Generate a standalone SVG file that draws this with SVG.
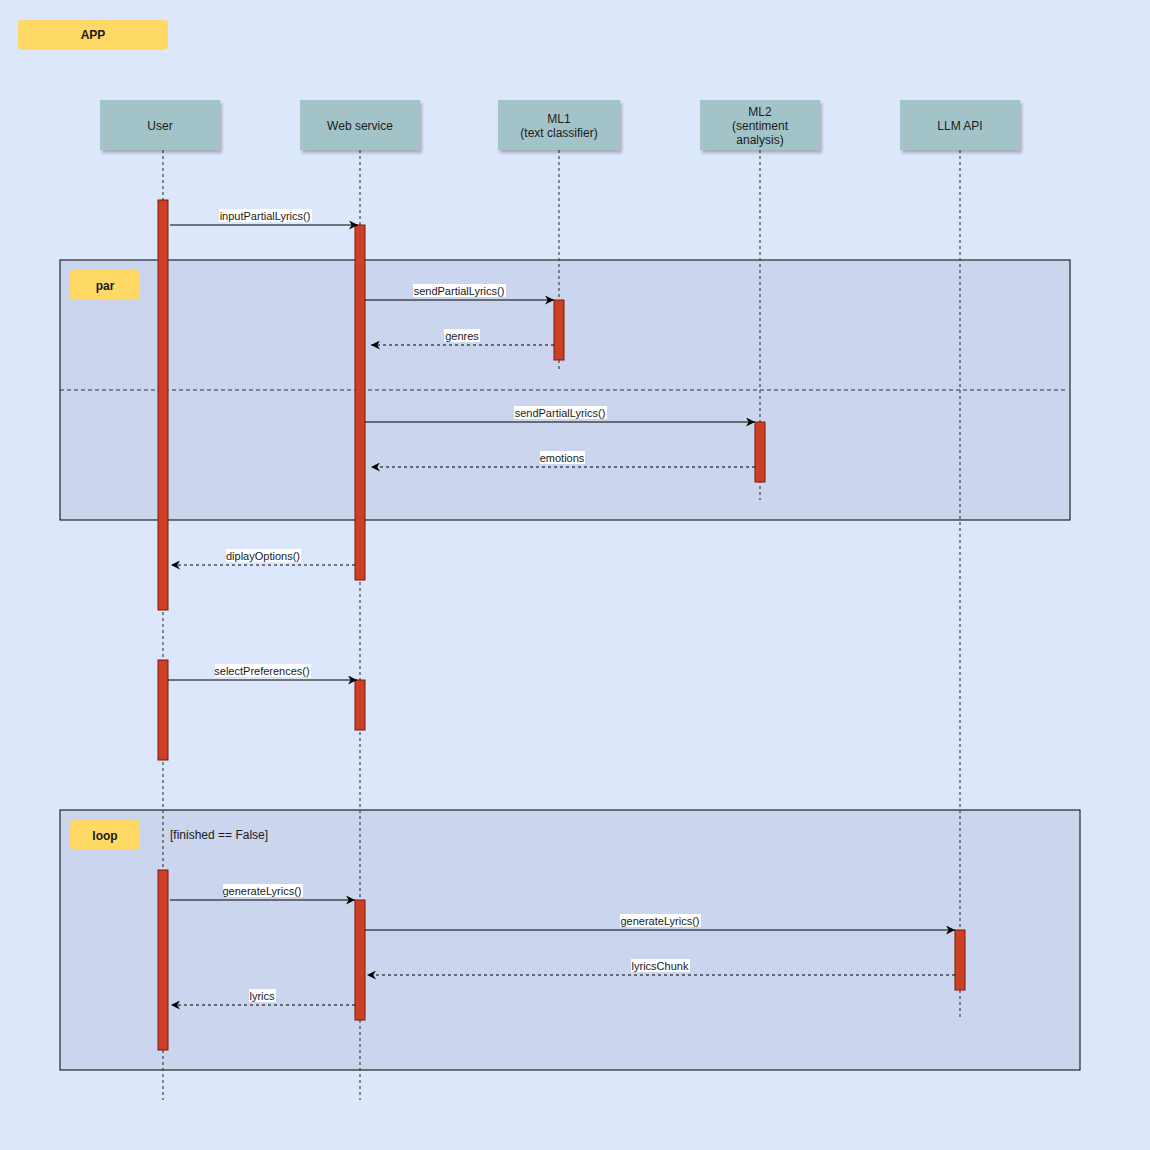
<svg xmlns="http://www.w3.org/2000/svg" width="1150" height="1150" viewBox="0 0 1150 1150">
<defs>
<marker id="arr" viewBox="0 0 10 10" refX="10" refY="5" markerWidth="9" markerHeight="9" markerUnits="userSpaceOnUse" orient="auto">
<path d="M0,0 L10,5 L0,10 L3,5 Z" fill="#000"/>
</marker>
<filter id="sh" x="-10%" y="-10%" width="130%" height="140%">
<feDropShadow dx="2" dy="3" stdDeviation="1.5" flood-color="#000" flood-opacity="0.25"/>
</filter>
</defs>
<style>
text{font-family:"Liberation Sans",Arial,sans-serif;fill:#1a1a1a}
.actor{fill:#a2c4c9}
.atxt{font-size:12px;text-anchor:middle}
.life{stroke:#444;stroke-width:1.2;stroke-dasharray:3 3;fill:none}
.act{fill:#cc4125;stroke:#7a1a0a;stroke-width:1}
.frame{fill:#cbd5ed;stroke:#000;stroke-width:1}
.tag{fill:#ffd966}
.tagtxt{font-size:12px;font-weight:bold;text-anchor:middle}
.msg{stroke:#000;stroke-width:1;fill:none}
.ret{stroke:#000;stroke-width:1;fill:none;stroke-dasharray:3 3}
.lbl{font-size:11px;text-anchor:middle}
.lblbg{fill:#fff}
</style>
<rect x="0" y="0" width="1150" height="1150" fill="#dde7fc"/>
<g id="app-tag"><rect class="tag" x="18" y="20" width="150" height="30" rx="4"/><text class="tagtxt" x="93" y="39">APP</text></g>

<g id="frame-par"><rect class="frame" x="60" y="260" width="1010" height="260"/><line x1="60" y1="390" x2="1066" y2="390" stroke="#333" stroke-dasharray="4 3"/><rect class="tag" x="70" y="270" width="70" height="30" rx="4"/><text class="tagtxt" x="105" y="290">par</text></g>
<g id="frame-loop"><rect class="frame" x="60" y="810" width="1020" height="260"/><rect class="tag" x="70" y="820" width="70" height="30" rx="4"/><text class="tagtxt" x="105" y="840">loop</text><text x="170" y="839" font-size="12px">[finished == False]</text></g>

<g id="lifelines">
<line class="life" x1="163" y1="150" x2="163" y2="1100"/>
<line class="life" x1="360" y1="150" x2="360" y2="1100"/>
<line class="life" x1="559" y1="150" x2="559" y2="370"/>
<line class="life" x1="760" y1="150" x2="760" y2="500"/>
<line class="life" x1="960" y1="150" x2="960" y2="1018"/>
</g>

<g id="actor-user"><rect class="actor" x="100" y="100" width="120" height="50" filter="url(#sh)"/><text class="atxt" x="160" y="130">User</text></g>
<g id="actor-web"><rect class="actor" x="300" y="100" width="120" height="50" filter="url(#sh)"/><text class="atxt" x="360" y="130">Web service</text></g>
<g id="actor-ml1"><rect class="actor" x="498" y="100" width="122" height="50" filter="url(#sh)"/><text class="atxt" x="559" y="123">ML1</text><text class="atxt" x="559" y="137">(text classifier)</text></g>
<g id="actor-ml2"><rect class="actor" x="700" y="100" width="120" height="50" filter="url(#sh)"/><text class="atxt" x="760" y="116">ML2</text><text class="atxt" x="760" y="130">(sentiment</text><text class="atxt" x="760" y="144">analysis)</text></g>
<g id="actor-llm"><rect class="actor" x="900" y="100" width="120" height="50" filter="url(#sh)"/><text class="atxt" x="960" y="130">LLM API</text></g>

<g id="activations">
<rect class="act" x="158" y="200" width="10" height="410"/>
<rect class="act" x="158" y="660" width="10" height="100"/>
<rect class="act" x="158" y="870" width="10" height="180"/>
<rect class="act" x="355" y="225" width="10" height="355"/>
<rect class="act" x="355" y="680" width="10" height="50"/>
<rect class="act" x="355" y="900" width="10" height="120"/>
<rect class="act" x="554" y="300" width="10" height="60"/>
<rect class="act" x="755" y="422" width="10" height="60"/>
<rect class="act" x="955" y="930" width="10" height="60"/>
</g>

<g id="connectors">
<line class="msg" x1="170" y1="225" x2="358" y2="225" marker-end="url(#arr)"/>
<rect class="lblbg" x="219" y="209" width="93" height="13"/><text class="lbl" x="265" y="220">inputPartialLyrics()</text>

<line class="msg" x1="365" y1="300" x2="554" y2="300" marker-end="url(#arr)"/>
<rect class="lblbg" x="413" y="284" width="93" height="13"/><text class="lbl" x="459" y="295">sendPartialLyrics()</text>

<line class="ret" x1="554" y1="345" x2="371" y2="345" marker-end="url(#arr)"/>
<rect class="lblbg" x="444" y="329" width="36" height="13"/><text class="lbl" x="462" y="340">genres</text>

<line class="msg" x1="365" y1="422" x2="755" y2="422" marker-end="url(#arr)"/>
<rect class="lblbg" x="514" y="406" width="93" height="13"/><text class="lbl" x="560" y="417">sendPartialLyrics()</text>

<line class="ret" x1="755" y1="467" x2="371" y2="467" marker-end="url(#arr)"/>
<rect class="lblbg" x="540" y="451" width="45" height="13"/><text class="lbl" x="562" y="462">emotions</text>

<line class="ret" x1="355" y1="565" x2="171" y2="565" marker-end="url(#arr)"/>
<rect class="lblbg" x="226" y="549" width="75" height="13"/><text class="lbl" x="263" y="560">diplayOptions()</text>

<line class="msg" x1="168" y1="680" x2="357" y2="680" marker-end="url(#arr)"/>
<rect class="lblbg" x="215" y="664" width="96" height="13"/><text class="lbl" x="262" y="675">selectPreferences()</text>

<line class="msg" x1="170" y1="900" x2="355" y2="900" marker-end="url(#arr)"/>
<rect class="lblbg" x="223" y="884" width="80" height="13"/><text class="lbl" x="262" y="895">generateLyrics()</text>

<line class="msg" x1="365" y1="930" x2="955" y2="930" marker-end="url(#arr)"/>
<rect class="lblbg" x="620" y="914" width="81" height="13"/><text class="lbl" x="660" y="925">generateLyrics()</text>

<line class="ret" x1="955" y1="975" x2="367" y2="975" marker-end="url(#arr)"/>
<rect class="lblbg" x="631" y="959" width="59" height="13"/><text class="lbl" x="660" y="970">lyricsChunk</text>

<line class="ret" x1="355" y1="1005" x2="171" y2="1005" marker-end="url(#arr)"/>
<rect class="lblbg" x="249" y="989" width="27" height="13"/><text class="lbl" x="262" y="1000">lyrics</text>
</g>
</svg>
